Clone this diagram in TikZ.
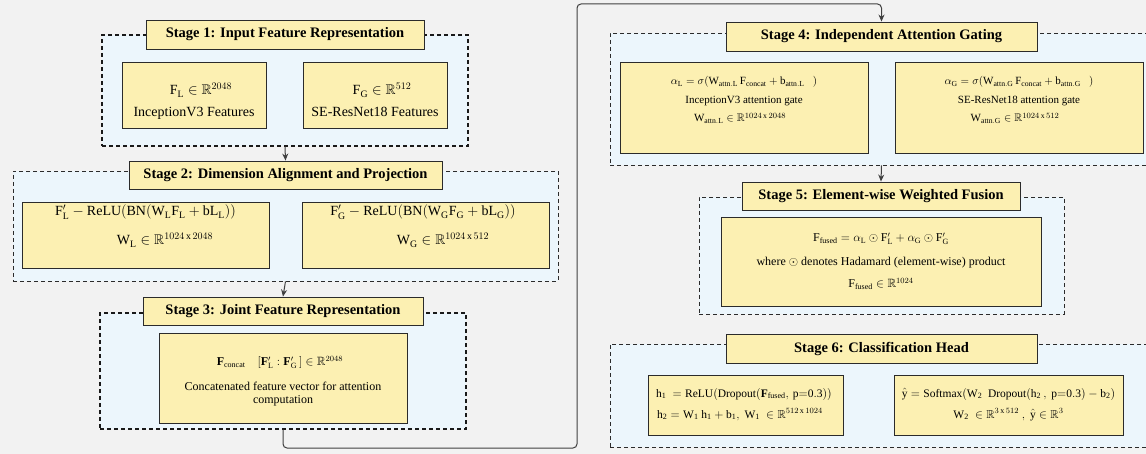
\documentclass[tikz,border=0pt]{standalone}
\usepackage{amssymb}
\usepackage{fontspec}
\setmainfont{Liberation Serif}
\usetikzlibrary{arrows.meta}
\definecolor{bgc}{HTML}{F2F2F2}
\definecolor{contc}{HTML}{ECF6FC}
\definecolor{boxc}{HTML}{FCF0B2}
\definecolor{edgec}{HTML}{2B2B2B}
\definecolor{arrc}{HTML}{404040}
\newcommand\RR{\mathbb{R}}
\tikzset{
  container/.style={draw=edgec, dash pattern=on 4pt off 3pt, line width=0.8pt, fill=contc, inner sep=0pt},
  thickcont/.style={container, line width=1.1pt, draw=black!90},
  titlebox/.style={draw=edgec, fill=boxc, line width=0.9pt, inner sep=0pt, font=\fontsize{14.5}{16}\selectfont\bfseries},
  stagebox/.style={draw=edgec, fill=boxc, line width=0.8pt, inner sep=0pt},
  txt/.style={anchor=base, inner sep=0pt},
  fa/.style={txt, font=\fontsize{14}{16}\selectfont},
  fc/.style={txt, font=\fontsize{12}{14}\selectfont},
  fd/.style={txt, font=\fontsize{11}{13}\selectfont},
  fe/.style={txt, font=\fontsize{11.5}{13}\selectfont},
  arr/.style={draw=arrc, line width=1pt, -{Stealth[length=7pt,width=6pt]}},
}
\begin{document}
\begin{tikzpicture}[x=1pt,y=-1pt]
\useasboundingbox (0,0) rectangle (1146,454);
\clip (0,0) rectangle (1146,454);
\fill[bgc] (0,0) rectangle (1146,454);

% Stage 1
\node[thickcont, minimum width=366pt, minimum height=111pt] (s1) at (285,90.5) {};
\node[titlebox, minimum width=278pt, minimum height=29pt] (s1t) at (285,34.5) {Stage 1: Input Feature Representation};
\node[stagebox, minimum width=144pt, minimum height=66pt] (b1l) at (194,95) {};
\node[stagebox, minimum width=144pt, minimum height=66pt] (b1r) at (375,95) {};
\node[fa] (b1la) at (201,95) {$\mathrm{F_L}\in\RR^{2048}$};
\node[fa] (b1lb) at (194,117) {InceptionV3 Features};
\node[fa] (b1ra) at (382,95) {$\mathrm{F_G}\in\RR^{512}$};
\node[fa] (b1rb) at (375,117) {SE-ResNet18 Features};

% Stage 2
\node[container, minimum width=545pt, minimum height=110pt] (s2) at (285.5,226) {};
\node[titlebox, minimum width=313pt, minimum height=28pt] (s2t) at (285.5,175) {Stage 2: Dimension Alignment and Projection};
\node[stagebox, minimum width=247pt, minimum height=66pt] (b2l) at (145.5,235) {};
\node[stagebox, minimum width=247pt, minimum height=66pt] (b2r) at (425.5,235) {};
\node[fa] (b2la) at (145.5,216) {$\mathrm{F'_L} - \mathrm{ReLU(BN(W_L F_L + bL_L))}$};
\node[fa] (b2lb) at (165,245) {$\mathrm{W_L}\in\RR^{1024\,\mathrm{x}\,2048}$};
\node[fa] (b2ra) at (423,216) {$\mathrm{F'_G} - \mathrm{ReLU(BN(W_G F_G + bL_G))}$};
\node[fa] (b2rb) at (443,245) {$\mathrm{W_G}\in\RR^{1024\,\mathrm{x}\,512}$};

% Stage 3
\node[thickcont, minimum width=366pt, minimum height=116pt] (s3) at (283,371) {};
\node[titlebox, minimum width=280pt, minimum height=28pt] (s3t) at (283,311) {Stage 3: Joint Feature Representation};
\node[stagebox, minimum width=248pt, minimum height=90pt] (b3) at (283,378) {};
\node[fc] (b3a) at (280,366) {$\mathbf{F}_{\mathrm{concat}}\quad[\mathbf{F}'_{\mathrm{L}}:\mathbf{F}'_{\mathrm{G}}\,]\in\RR^{2048}$};
\node[fc] (b3b) at (283,390) {Concatenated feature vector for attention};
\node[fc] (b3c) at (283,403) {computation};

% Stage 4
\node[container, minimum width=550pt, minimum height=132pt] (s4) at (885,99) {};
\node[titlebox, minimum width=311pt, minimum height=29pt] (s4t) at (881.5,36.5) {Stage 4: Independent Attention Gating};
\node[stagebox, minimum width=248pt, minimum height=91pt] (b4l) at (744,107.5) {};
\node[stagebox, minimum width=248pt, minimum height=91pt] (b4r) at (1019,107.5) {};
\node[fd] (b4la) at (744,85) {$\alpha_{\mathrm{L}} = \sigma(\mathrm{W_{attn.L}\,F_{concat}} + \mathrm{b_{attn.L}}\ \ \ )$};
\node[fd] (b4lb) at (744,103.5) {InceptionV3 attention gate};
\node[fd] (b4lc) at (740,122) {$\mathrm{W_{attn.L}}\in\RR^{1024\,\mathrm{x}\,2048}$};
\node[fd] (b4ra) at (1019,85) {$\alpha_{\mathrm{G}} = \sigma(\mathrm{W_{attn.G}\,F_{concat}} + \mathrm{b_{attn.G}}\ \ \ )$};
\node[fd] (b4rb) at (1019,103.5) {SE-ResNet18 attention gate};
\node[fd] (b4rc) at (1015,122) {$\mathrm{W_{attn.G}}\in\RR^{1024\,\mathrm{x}\,512}$};

% Stage 5
\node[container, minimum width=365pt, minimum height=117pt] (s5) at (881.5,255.5) {};
\node[titlebox, minimum width=278pt, minimum height=28pt] (s5t) at (881,196) {Stage 5: Element-wise Weighted Fusion};
\node[stagebox, minimum width=320pt, minimum height=89pt] (b5) at (881,261.5) {};
\node[fc] (b5a) at (881,242) {$\mathrm{F_{fused}} = \alpha_{\mathrm{L}}\odot\mathrm{F'_L} + \alpha_{\mathrm{G}}\odot\mathrm{F'_G}$};
\node[fc] (b5b) at (881,266) {where $\odot$ denotes Hadamard (element-wise) product};
\node[fc] (b5c) at (881,288) {$\mathrm{F_{fused}}\in\RR^{1024}$};

% Stage 6
\node[container, minimum width=550pt, minimum height=103pt] (s6) at (885,395.5) {};
\node[titlebox, minimum width=311pt, minimum height=29pt] (s6t) at (881.5,348.5) {Stage 6: Classification Head};
\node[stagebox, minimum width=195pt, minimum height=60pt] (b6l) at (745.5,405) {};
\node[stagebox, minimum width=229pt, minimum height=60pt] (b6r) at (1008.5,405) {};
\node[fe] (b6la) at (744,397) {$\mathrm{h_1\ = ReLU(Dropout(}\mathbf{F}_{\mathrm{fused}}\mathrm{,\,p{=}0.3))}$};
\node[fe] (b6lb) at (740,418) {$\mathrm{h_2 = W_1\ h_1 + b_1,\ W_1\ }\in\RR^{512\,\mathrm{x}\,1024}$};
\node[fe] (b6ra) at (1008.5,397) {$\hat{\mathrm{y}} = \mathrm{Softmax(W_2\ \ Dropout(h_2\,,\ p{=}0.3) - b_2)}$};
\node[fe] (b6rb) at (1008.5,418) {$\mathrm{W_2\ }\in\RR^{3\,\mathrm{x}\,512}\ ,\ \hat{\mathrm{y}}\in\RR^{3}$};

% Connectors
\draw[arr] (s1.south) -- (s2t.north);
\draw[arr] (s2.south) -- (s3t.north);
\coordinate (j1) at (577,448);
\coordinate (j2) at (577,4);
\draw[arr, rounded corners=4pt] (s3.south) |- (j1) -- (j2) -| (s4t.north);
\draw[arr] (s4.south -| s4t.south) -- (s5t.north);
\end{tikzpicture}
\end{document}
